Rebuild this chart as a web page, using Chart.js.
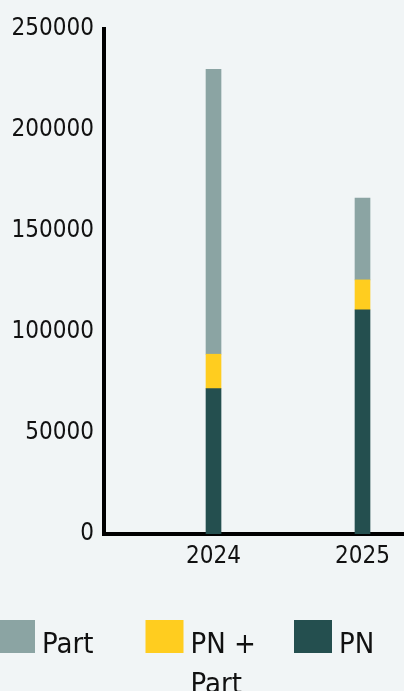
<!DOCTYPE html>
<html>
<head>
<meta charset="utf-8">
<script src="https://cdn.jsdelivr.net/npm/chart.js@4"></script>
<style>
  html, body { margin: 0; padding: 0; background: #f1f5f6; overflow: hidden; }
  canvas { display: block; }
</style>
</head>
<body>
<canvas id="chart" width="404" height="691"></canvas>
<script>
// data
const years = [2024, 2025];
const pnValues = [72000, 111000];
const pnPartValues = [17000, 14800];
const partValues = [141000, 40500];
const yTicks = [0, 50000, 100000, 150000, 200000, 250000];

const BG = '#f1f5f6';
const FONT = '"DejaVu Sans Condensed", "DejaVu Sans", sans-serif';
const colors = { pn: '#244f4f', pnPart: '#ffcd1f', part: '#8ba4a3' };

const toPoints = vals => years.map((yr, i) => ({ x: yr, y: vals[i] }));

function wrap(ctx, text, maxWidth) {
    let lines = [];
    let cur = '';
    text.split(' ').forEach(word => {
        let test = cur ? cur + ' ' + word : word;
        if (cur && ctx.measureText(test).width > maxWidth) {
            lines.push(cur);
            cur = word;
        } else {
            cur = test;
        }
    });
    if (cur) lines.push(cur);
    // keep a lone "+" on the first line, like the original
    if (lines.length > 1 && lines[1].startsWith('+ ')) {
        lines[0] += ' +';
        lines[1] = lines[1].slice(2);
    }
    return lines;
}

const bgPlugin = {
    id: 'bg',
    beforeDraw(chart) {
        const c = chart.ctx;
        c.save();
        c.fillStyle = BG;
        c.fillRect(0, 0, chart.width, chart.height);
        c.restore();
    }
};

// legend with wrapped labels (the built-in one cannot wrap)
const legendPlugin = {
    id: 'wrappedLegend',
    afterDraw(chart) {
        const c = chart.ctx;
        const items = chart.data.datasets.slice().reverse();
        c.save();
        c.font = '29px ' + FONT;
        c.textBaseline = 'alphabetic';
        items.forEach((ds, i) => {
            const bx = -3 + i * 148.5;
            c.fillStyle = ds.backgroundColor;
            c.fillRect(bx, 620, 38, 33);
            c.fillStyle = '#111';
            wrap(c, ds.label, 100).forEach((line, j) => {
                c.fillText(line, bx + 45, 653 + j * 40);
            });
        });
        c.restore();
    }
};

const ctx = document.getElementById('chart').getContext('2d');
new Chart(ctx, {
    type: 'bar',
    data: {
        datasets: [
            { label: 'PN', data: toPoints(pnValues), backgroundColor: colors.pn },
            { label: 'PN + Part', data: toPoints(pnPartValues), backgroundColor: colors.pnPart },
            { label: 'Part', data: toPoints(partValues), backgroundColor: colors.part }
        ]
    },
    options: {
        responsive: false,
        animation: false,
        devicePixelRatio: 1,
        layout: { padding: { top: 29, left: 0, right: 0, bottom: 0 } },
        plugins: {
            legend: { display: false },
            tooltip: { enabled: false }
        },
        datasets: { bar: { barThickness: 15, borderWidth: 0 } },
        scales: {
            x: {
                type: 'linear',
                stacked: true,
                offset: false,
                min: 2023.265,
                max: 2025.2785,
                grid: { display: false, drawTicks: false, offset: false },
                border: { display: true, color: '#000', width: 4 },
                afterBuildTicks: s => { s.ticks = years.map(v => ({ value: v })); },
                afterFit: s => { s.height = 157; },
                ticks: {
                    padding: 8,
                    color: '#111',
                    font: { family: FONT, size: 24 },
                    callback: v => String(v)
                }
            },
            y: {
                stacked: true,
                min: 0,
                max: 250000,
                grid: { display: false, drawTicks: false },
                border: { display: true, color: '#000', width: 4 },
                afterBuildTicks: s => { s.ticks = yTicks.map(v => ({ value: v })); },
                afterFit: s => { s.width = 104; },
                ticks: {
                    padding: 10,
                    color: '#111',
                    font: { family: FONT, size: 24 },
                    callback: v => String(v)
                }
            }
        }
    },
    plugins: [bgPlugin, legendPlugin]
});
</script>
</body>
</html>
